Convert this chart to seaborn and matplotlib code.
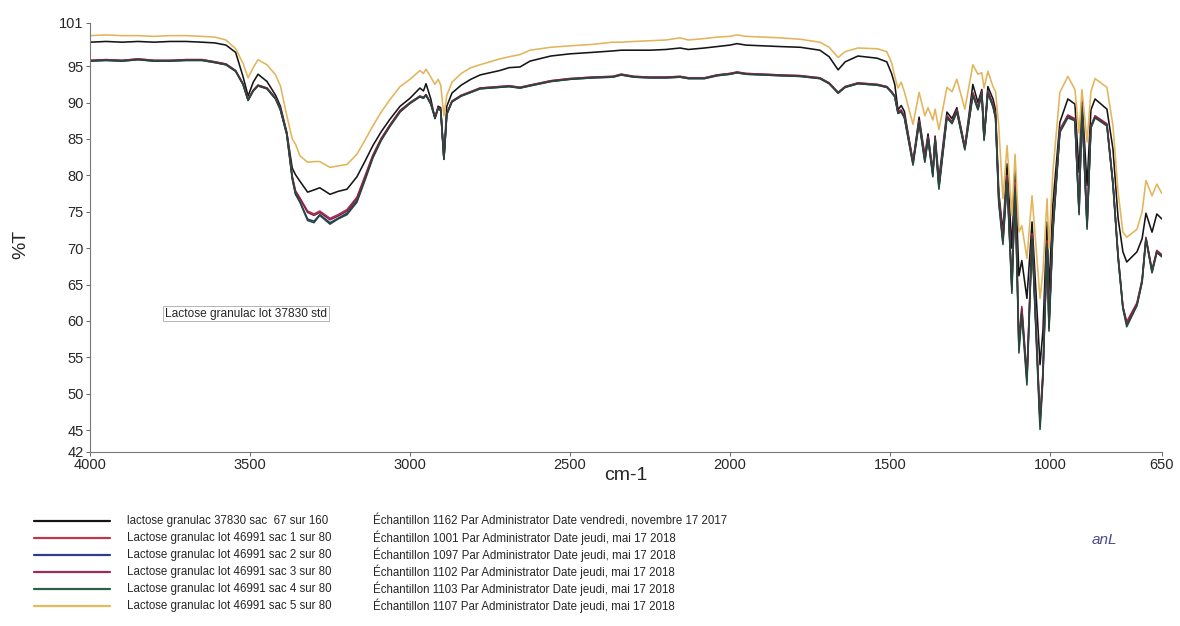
import pandas as pd
import matplotlib
matplotlib.use("Agg")
import matplotlib.pyplot as plt
from matplotlib.lines import Line2D
from matplotlib import font_manager
import seaborn as sns

wavenumber = [4000, 3950, 3900, 3850, 3800, 3750, 3700, 3650, 3610, 3575, 3545, 3522, 3506, 3490,
              3475, 3447, 3420, 3405, 3385, 3368, 3358, 3344, 3320, 3300, 3282, 3250, 3225, 3197,
              3166, 3140, 3116, 3090, 3063, 3031, 3000, 2969, 2958, 2950, 2935, 2922, 2912, 2904,
              2894, 2885, 2869, 2840, 2810, 2781, 2720, 2690, 2656, 2625, 2560, 2500, 2430, 2366,
              2340, 2300, 2250, 2200, 2156, 2130, 2080, 2040, 2000, 1978, 1950, 1900, 1844, 1780,
              1719, 1690, 1662, 1640, 1600, 1540, 1510, 1495, 1485, 1475, 1465, 1455, 1428, 1409,
              1391, 1381, 1366, 1359, 1347, 1322, 1306, 1291, 1266, 1241, 1225, 1213, 1206, 1194,
              1178, 1170, 1160, 1147, 1134, 1119, 1109, 1097, 1088, 1072, 1056, 1031, 1022, 1009,
              1003, 991, 969, 944, 922, 909, 900, 884, 872, 859, 822, 803, 787, 772,
              760, 728, 712, 700, 681, 666, 650]

std_67 = [98.3, 98.4, 98.3, 98.4, 98.3, 98.4, 98.4, 98.3, 98.2, 97.9, 96.9, 93.6, 90.9, 92.8,
          93.9, 92.9, 91.0, 89.5, 85.9, 81.0, 80.1, 79.2, 77.7, 78.0, 78.3, 77.4, 77.8, 78.1,
          79.8, 82.0, 84.1, 86.0, 87.7, 89.5, 90.6, 92.0, 91.6, 92.6, 90.5, 87.8, 89.5, 89.3,
          82.3, 89.5, 91.3, 92.4, 93.2, 93.8, 94.4, 94.8, 94.9, 95.7, 96.4, 96.7, 96.9, 97.1,
          97.2, 97.2, 97.2, 97.3, 97.5, 97.3, 97.5, 97.7, 97.9, 98.1, 97.9, 97.8, 97.7, 97.6,
          97.2, 96.3, 94.5, 95.6, 96.4, 96.1, 95.6, 94.0, 92.5, 89.0, 89.6, 88.8, 81.8, 88.0,
          82.7, 85.7, 80.4, 85.4, 79.5, 88.7, 87.8, 89.3, 83.9, 92.5, 90.0, 91.8, 85.2, 92.2,
          90.5, 89.0, 77.7, 72.2, 81.6, 70.0, 80.9, 66.2, 68.3, 63.1, 73.6, 54.0, 58.6, 73.6,
          64.0, 76.0, 87.3, 90.5, 89.8, 80.4, 90.5, 78.6, 89.0, 90.5, 89.1, 83.6, 74.1, 69.5,
          68.1, 69.5, 71.3, 74.8, 72.2, 74.7, 74.0]

sac_1 = [95.8, 95.9, 95.8, 96.0, 95.8, 95.8, 95.9, 95.9, 95.6, 95.3, 94.4, 92.6, 90.5, 91.7,
         92.4, 92.0, 90.6, 89.2, 85.8, 79.9, 77.9, 76.9, 75.1, 74.7, 75.1, 74.1, 74.6, 75.3,
         77.0, 80.0, 82.8, 85.1, 86.9, 88.9, 90.0, 90.9, 90.7, 91.1, 89.9, 88.0, 89.3, 89.0,
         82.4, 88.5, 90.2, 91.0, 91.5, 92.0, 92.2, 92.3, 92.1, 92.4, 93.0, 93.3, 93.5, 93.6,
         93.9, 93.6, 93.5, 93.5, 93.6, 93.4, 93.4, 93.8, 94.0, 94.2, 94.0, 93.9, 93.8, 93.7,
         93.4, 92.7, 91.4, 92.2, 92.7, 92.5, 92.2, 91.5, 90.9, 88.8, 89.0, 88.2, 82.0, 87.5,
         82.4, 85.3, 80.4, 85.2, 78.8, 88.2, 87.4, 89.0, 84.0, 91.4, 89.4, 91.5, 85.3, 91.6,
         89.8, 88.3, 77.0, 71.5, 80.0, 65.0, 79.0, 57.0, 62.0, 52.5, 72.0, 46.5, 53.0, 71.0,
         59.5, 72.8, 86.3, 88.3, 87.8, 75.3, 89.7, 73.4, 86.8, 88.2, 87.1, 79.0, 69.0, 62.0,
         59.9, 62.5, 65.7, 71.5, 67.0, 69.7, 69.1]

sac_2 = [95.7, 95.8, 95.7, 95.9, 95.7, 95.7, 95.8, 95.8, 95.5, 95.2, 94.3, 92.5, 90.3, 91.6,
         92.3, 91.9, 90.5, 89.0, 85.6, 79.6, 77.5, 76.4, 74.0, 73.7, 74.6, 73.5, 74.1, 74.8,
         76.5, 79.6, 82.5, 84.9, 86.8, 88.8, 89.9, 90.8, 90.6, 91.0, 89.8, 87.9, 89.2, 88.9,
         82.2, 88.4, 90.1, 90.9, 91.4, 91.9, 92.1, 92.2, 92.0, 92.3, 92.9, 93.2, 93.4, 93.5,
         93.8, 93.5, 93.4, 93.4, 93.5, 93.3, 93.3, 93.7, 93.9, 94.1, 93.9, 93.8, 93.7, 93.6,
         93.3, 92.6, 91.3, 92.1, 92.6, 92.4, 92.1, 91.4, 90.8, 88.6, 88.8, 88.0, 81.6, 87.3,
         82.0, 85.1, 80.0, 85.0, 78.4, 88.0, 87.2, 88.8, 83.7, 91.1, 89.1, 91.3, 85.0, 91.4,
         89.5, 88.0, 76.5, 70.9, 79.5, 64.3, 78.5, 56.3, 61.4, 51.8, 71.6, 45.8, 52.4, 70.6,
         59.0, 72.4, 86.1, 88.1, 87.6, 74.9, 89.6, 73.0, 86.6, 88.0, 86.9, 78.8, 68.8, 61.8,
         59.5, 62.2, 65.4, 71.3, 66.8, 69.5, 68.9]

sac_3 = [95.8, 95.9, 95.8, 96.0, 95.8, 95.8, 95.9, 95.9, 95.6, 95.3, 94.4, 92.6, 90.4, 91.7,
         92.4, 92.0, 90.6, 89.1, 85.7, 79.8, 77.8, 76.8, 74.9, 74.5, 74.9, 73.9, 74.4, 75.1,
         76.8, 79.8, 82.7, 85.0, 86.9, 88.9, 90.0, 90.9, 90.7, 91.1, 89.9, 88.0, 89.3, 89.0,
         82.3, 88.5, 90.2, 91.0, 91.5, 92.0, 92.2, 92.3, 92.1, 92.4, 93.0, 93.3, 93.5, 93.6,
         93.9, 93.6, 93.5, 93.5, 93.6, 93.4, 93.4, 93.8, 94.0, 94.2, 94.0, 93.9, 93.8, 93.7,
         93.4, 92.7, 91.4, 92.2, 92.7, 92.5, 92.2, 91.5, 90.9, 88.7, 88.9, 88.1, 81.8, 87.4,
         82.2, 85.2, 80.2, 85.1, 78.6, 88.1, 87.3, 88.9, 83.8, 91.2, 89.2, 91.4, 85.1, 91.5,
         89.6, 88.1, 76.8, 71.2, 79.8, 64.6, 78.8, 56.6, 61.7, 52.1, 71.8, 46.2, 52.7, 70.8,
         59.2, 72.6, 86.2, 88.2, 87.7, 75.1, 89.6, 73.2, 86.7, 88.1, 87.0, 78.9, 68.9, 61.9,
         59.7, 62.4, 65.6, 71.4, 66.9, 69.6, 69.0]

sac_4 = [95.7, 95.8, 95.7, 95.9, 95.7, 95.7, 95.8, 95.8, 95.5, 95.2, 94.3, 92.5, 90.3, 91.6,
         92.3, 91.9, 90.5, 89.0, 85.6, 79.5, 77.4, 76.3, 73.8, 73.5, 74.5, 73.3, 74.0, 74.6,
         76.3, 79.4, 82.4, 84.8, 86.7, 88.7, 89.9, 90.8, 90.6, 91.0, 89.8, 87.9, 89.2, 88.9,
         82.2, 88.4, 90.1, 90.9, 91.4, 91.9, 92.1, 92.2, 92.0, 92.3, 92.9, 93.2, 93.4, 93.5,
         93.8, 93.5, 93.4, 93.4, 93.5, 93.3, 93.3, 93.7, 93.9, 94.1, 93.9, 93.8, 93.7, 93.6,
         93.3, 92.6, 91.3, 92.1, 92.6, 92.4, 92.1, 91.4, 90.8, 88.5, 88.7, 87.9, 81.4, 87.2,
         81.8, 85.0, 79.8, 84.9, 78.1, 87.9, 87.1, 88.7, 83.5, 91.0, 89.0, 91.2, 84.8, 91.3,
         89.4, 87.8, 76.2, 70.5, 79.2, 63.8, 78.2, 55.6, 61.0, 51.2, 71.3, 45.1, 52.0, 70.4,
         58.6, 72.0, 85.9, 87.9, 87.5, 74.6, 89.5, 72.6, 86.5, 87.9, 86.8, 78.6, 68.6, 61.7,
         59.2, 62.1, 65.3, 71.2, 66.6, 69.4, 68.8]

sac_5 = [99.2, 99.3, 99.2, 99.2, 99.1, 99.2, 99.2, 99.1, 99.0, 98.6, 97.4, 95.4, 93.4, 94.8,
         95.9, 95.2, 93.8, 92.3, 88.2, 85.0, 84.3, 82.7, 81.8, 81.9, 81.9, 81.1, 81.3, 81.5,
         82.9, 84.9, 86.8, 88.7, 90.4, 92.2, 93.2, 94.4, 94.0, 94.6, 93.5, 92.5, 93.2, 92.4,
         88.2, 91.0, 92.8, 94.0, 94.8, 95.2, 96.0, 96.3, 96.6, 97.2, 97.6, 97.8, 98.0, 98.3,
         98.3, 98.4, 98.5, 98.6, 98.9, 98.6, 98.8, 99.0, 99.1, 99.3, 99.1, 99.0, 98.9, 98.7,
         98.3, 97.6, 96.2, 97.0, 97.5, 97.4, 97.0, 95.5, 93.6, 92.0, 92.8, 91.5, 87.0, 91.4,
         88.2, 89.3, 87.6, 89.1, 86.3, 92.1, 91.5, 93.2, 89.1, 95.2, 93.9, 94.1, 92.0, 94.3,
         92.2, 91.5, 86.8, 76.8, 84.1, 74.5, 82.9, 72.2, 73.1, 68.6, 77.2, 63.1, 66.8, 76.8,
         70.0, 80.4, 91.4, 93.6, 91.8, 85.8, 91.8, 84.6, 91.5, 93.3, 92.1, 86.8, 77.7, 72.2,
         71.5, 72.6, 75.0, 79.3, 77.2, 78.8, 77.5]

samples = ["sac 67 std", "sac 1", "sac 2", "sac 3", "sac 4", "sac 5"]
series = [std_67, sac_1, sac_2, sac_3, sac_4, sac_5]
colors = ["#151515", "#b83a4b", "#2c3f92", "#9a2a58", "#2e6048", "#e6b95a"]
# traces un peu plus sombres que les pastilles (effet du scan)
line_colors = ["#151515", "#a33545", "#27377c", "#85244c", "#26493a", "#e2b55a"]

legend_names = [
    "lactose granulac 37830 sac  67 sur 160",
    "Lactose granulac lot 46991 sac 1 sur 80",
    "Lactose granulac lot 46991 sac 2 sur 80",
    "Lactose granulac lot 46991 sac 3 sur 80",
    "Lactose granulac lot 46991 sac 4 sur 80",
    "Lactose granulac lot 46991 sac 5 sur 80",
]
legend_info = [
    "Échantillon 1162 Par Administrator Date vendredi, novembre 17 2017",
    "Échantillon 1001 Par Administrator Date jeudi, mai 17 2018",
    "Échantillon 1097 Par Administrator Date jeudi, mai 17 2018",
    "Échantillon 1102 Par Administrator Date jeudi, mai 17 2018",
    "Échantillon 1103 Par Administrator Date jeudi, mai 17 2018",
    "Échantillon 1107 Par Administrator Date jeudi, mai 17 2018",
]
x_ticks = [4000, 3500, 3000, 2500, 2000, 1500, 1000, 650]
y_ticks = [101, 95, 90, 85, 80, 75, 70, 65, 60, 55, 50, 45, 42]

rows = []
for name, vals in zip(samples, series):
    for wn, t in zip(wavenumber, vals):
        rows.append({"wn": wn, "T": t, "sample": name})
df = pd.DataFrame(rows)

sns.set_style("ticks")
plt.rcParams["font.family"] = ["Liberation Sans", "DejaVu Sans"]

names = {f.name for f in font_manager.fontManager.ttflist}
if "Liberation Sans Narrow" in names:
    leg_font, leg_size = ["Liberation Sans Narrow", "Liberation Sans"], 9.6
else:
    leg_font, leg_size = ["Liberation Sans", "DejaVu Sans"], 8.3

fig = plt.figure(figsize=(11.8, 6.26), dpi=100)
ax = fig.add_axes([0.0763, 0.278, 0.9084, 0.686])

sns.lineplot(data=df, x="wn", y="T", hue="sample", palette=dict(zip(samples, line_colors)),
             estimator=None, sort=False, linewidth=1.15, legend=False, ax=ax)

ax.set_xlim(4000, 650)
ax.set_ylim(42, 101)
ax.set_xticks(x_ticks)
ax.set_yticks(y_ticks)
ax.tick_params(axis="both", labelsize=10.5, length=3, width=0.7, color="#666666", pad=1.5)
ax.set_xlabel("")
ax.set_ylabel("")
for s in ["top", "right"]:
    ax.spines[s].set_visible(False)
for s in ["left", "bottom"]:
    ax.spines[s].set_color("#777777")
    ax.spines[s].set_linewidth(0.8)

ax.text(3766, 61.0, "Lactose granulac lot 37830 std", fontsize=8.6, ha="left", va="center",
        bbox=dict(boxstyle="square,pad=0.15", facecolor="white", edgecolor="#aaaaaa", linewidth=0.6))

fig.text(0.018, 0.61, "%T", rotation=90, fontsize=14, ha="center", va="center")
fig.text(0.53, 0.24, "cm-1", fontsize=14, ha="center", va="center")

# legende manuelle sous le graphique
row_px = [521, 538, 555, 572, 589, 606]
for ypx, col, n1, n2 in zip(row_px, colors, legend_names, legend_info):
    yf = 1 - ypx / 626
    fig.add_artist(Line2D([34 / 1180, 110 / 1180], [yf, yf], color=col, linewidth=1.6,
                          transform=fig.transFigure))
    fig.text(127 / 1180, yf, n1, fontsize=leg_size, family=leg_font, ha="left", va="center")
    fig.text(373 / 1180, yf, n2, fontsize=leg_size, family=leg_font, ha="left", va="center")

fig.text(1092 / 1180, 1 - 540 / 626, "anL", fontsize=11, color="#4a4a8c", style="italic",
         ha="left", va="center")

fig.savefig("out.png", dpi=100)
